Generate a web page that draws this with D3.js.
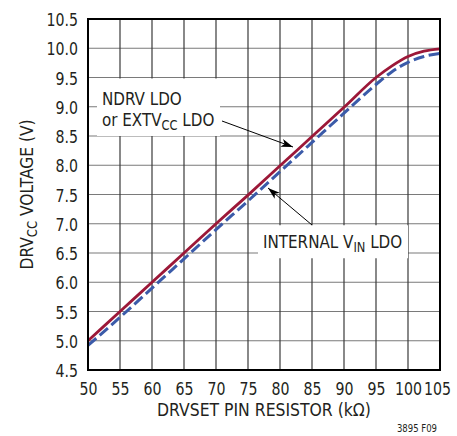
<!DOCTYPE html>
<html><head><meta charset="utf-8">
<script src="https://cdn.jsdelivr.net/npm/d3@7"></script>
<style>
body{margin:0;background:#fff;}
text{font-family:"DejaVu Sans Condensed","DejaVu Sans",sans-serif;fill:#231f20;}
</style></head>
<body><svg id="c" width="457" height="436"></svg>
<script>
const xTicks = [50,55,60,65,70,75,80,85,90,95,100,105];
const yTicks = [4.5,5.0,5.5,6.0,6.5,7.0,7.5,8.0,8.5,9.0,9.5,10.0,10.5];
const resistorK = [50,55,60,65,70,75,80,85,90,95,97.5,100,102.5,105];
const ndrvLdo   = [5.0,5.5,6.0,6.5,7.0,7.49,7.99,8.49,8.99,9.5,9.7,9.86,9.95,9.99];
const internalLdo=[4.92,5.4,5.9,6.4,6.9,7.39,7.89,8.39,8.89,9.38,9.6,9.76,9.86,9.91];

const W=457,H=436, m={l:88,t:19,r:17,b:66};
const svg=d3.select("#c");
const x=d3.scaleLinear().domain([50,105]).range([m.l,W-m.r]);
const y=d3.scaleLinear().domain([4.5,10.5]).range([H-m.b,m.t]);

function squeeze(sel,f){ sel.each(function(){ const L=this.getComputedTextLength(); d3.select(this).attr("textLength",L*f).attr("lengthAdjust","spacingAndGlyphs"); }); }

// grid
svg.append("g").selectAll("line").data(yTicks).join("line")
 .attr("x1",x(50)).attr("x2",x(105)).attr("y1",d=>y(d)).attr("y2",d=>y(d))
 .attr("stroke","#7a7a7a").attr("stroke-width",1.2);
svg.append("g").selectAll("line").data(xTicks).join("line")
 .attr("y1",y(4.5)).attr("y2",y(10.5)).attr("x1",d=>x(d)).attr("x2",d=>x(d))
 .attr("stroke","#3a3a3a").attr("stroke-width",1.2);

// annotation boxes (mask grid)
svg.append("rect").attr("x",97).attr("y",y(9.5)+1).attr("width",123).attr("height",y(8.5)-y(9.5)-1).attr("fill","#fff");
svg.append("rect").attr("x",258).attr("y",y(7.0)+1.5).attr("width",150).attr("height",33).attr("fill","#fff");

// lines
const line=(vals)=>d3.line().x((d,i)=>x(resistorK[i])).y(d=>y(d)).curve(d3.curveMonotoneX)(vals);
svg.append("path").attr("d",line(internalLdo)).attr("fill","none").attr("stroke","#3b5ba9").attr("stroke-width",3).attr("stroke-dasharray","11,4.5");
svg.append("path").attr("d",line(ndrvLdo)).attr("fill","none").attr("stroke","#9c1838").attr("stroke-width",2.8);

// frame
svg.append("rect").attr("x",x(50)).attr("y",y(10.5)).attr("width",x(105)-x(50)).attr("height",y(4.5)-y(10.5))
 .attr("fill","none").attr("stroke","#000").attr("stroke-width",2);

// axes
const xa=d3.axisBottom(x).tickValues(xTicks).tickSize(0).tickPadding(12).tickFormat(d3.format("d"));
const gx=svg.append("g").attr("transform",`translate(0,${y(4.5)})`).call(xa);
gx.select(".domain").remove();
const ya=d3.axisLeft(y).tickValues(yTicks).tickSize(0).tickPadding(10).tickFormat(d3.format(".1f"));
const gy=svg.append("g").attr("transform",`translate(${x(50)},0)`).call(ya);
gy.select(".domain").remove();
svg.selectAll("g").attr("font-family",null).attr("font-size",null);
svg.selectAll(".tick text").attr("fill","#231f20").attr("font-size",18.5);
gy.selectAll("text").attr("dy","0.36em");
gx.selectAll(".tick text").filter(d=>d===105).attr("dx",-3);
squeeze(svg.selectAll(".tick text"),0.85);

// axis titles
const xt=svg.append("text").attr("x",(x(50)+x(105))/2).attr("y",416).attr("text-anchor","middle").attr("font-size",18.5).text("DRVSET PIN RESISTOR (kΩ)");
squeeze(xt,0.94);
const yt=svg.append("text").attr("transform",`translate(33,${(y(4.5)+y(10.5))/2}) rotate(-90)`).attr("text-anchor","middle").attr("font-size",18.5);
yt.append("tspan").text("DRV");
yt.append("tspan").attr("font-size",14).attr("dy",4).text("CC");
yt.append("tspan").attr("dy",-4).text(" VOLTAGE (V)");
squeeze(yt,0.93);

// footnote
const fn=svg.append("text").attr("x",437).attr("y",432).attr("text-anchor","end").attr("font-size",10.5).text("3895 F09");
squeeze(fn,0.9);

// annotation text
const t1=svg.append("text").attr("x",102).attr("y",105).attr("font-size",18.5).text("NDRV LDO");
const t2=svg.append("text").attr("x",102).attr("y",126).attr("font-size",18.5);
t2.append("tspan").text("or EXTV");
t2.append("tspan").attr("font-size",14).attr("dy",4).text("CC");
t2.append("tspan").attr("dy",-4).text(" LDO");
const t3=svg.append("text").attr("x",263).attr("y",248).attr("font-size",18.5);
t3.append("tspan").text("INTERNAL V");
t3.append("tspan").attr("font-size",14).attr("dy",4).text("IN");
t3.append("tspan").attr("dy",-4).text(" LDO");
squeeze(t1,0.91); squeeze(t2,0.91); squeeze(t3,0.91);

// arrows
svg.append("defs").append("marker").attr("id","ah").attr("viewBox","0 0 12 8").attr("refX",12).attr("refY",4)
 .attr("markerWidth",12).attr("markerHeight",8).attr("markerUnits","userSpaceOnUse").attr("orient","auto")
 .append("path").attr("d","M0,0 L12,4 L0,8 L3,4 Z").attr("fill","#000");
svg.append("line").attr("x1",222).attr("y1",121).attr("x2",293).attr("y2",147).attr("stroke","#000").attr("stroke-width",1).attr("marker-end","url(#ah)");
svg.append("line").attr("x1",312).attr("y1",225).attr("x2",268).attr("y2",188).attr("stroke","#000").attr("stroke-width",1).attr("marker-end","url(#ah)");
</script></body></html>
